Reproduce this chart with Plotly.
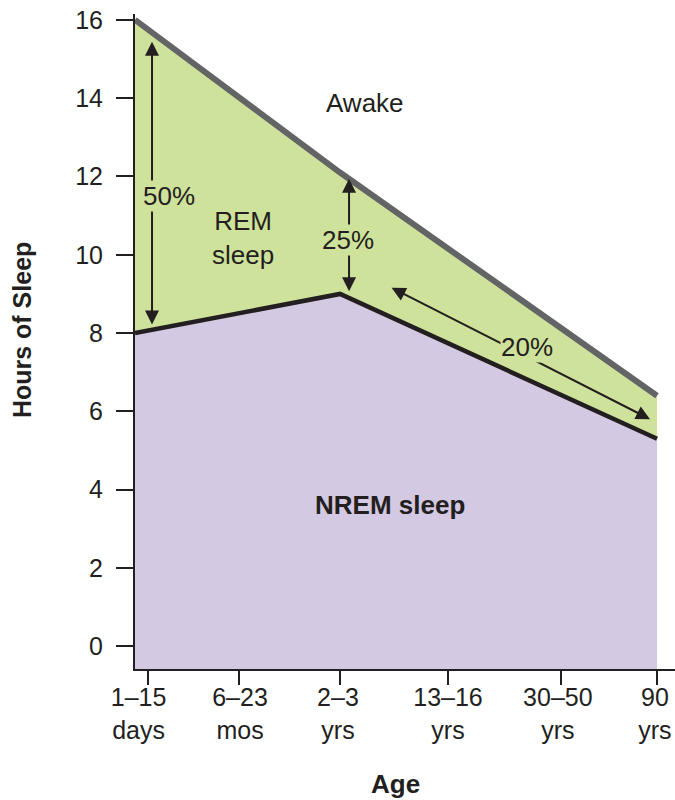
import numpy as np
import plotly.graph_objects as go

# ---- data ----
age_labels = ["1–15<br>days", "6–23<br>mos", "2–3<br>yrs", "13–16<br>yrs", "30–50<br>yrs", "90<br>yrs"]
age_label_pos = [0.034, 1.006, 1.944, 2.998, 4.05, 4.98]
age_tick_pos = [0.125, 0.996, 1.964, 2.998, 4.08, 5.0]

sample_x = [0.0, 1.964, 5.0]          # 1–15 days, 2–3 yrs, 90 yrs
total_sleep = [16.0, 12.1, 6.4]       # hours asleep (REM + NREM)
nrem_sleep = [8.0, 9.0, 5.3]          # hours of NREM sleep

y_ticks = [0, 2, 4, 6, 8, 10, 12, 14, 16]

# ---- style ----
FONT = "Liberation Sans, Arial, sans-serif"
INK = "#231f20"
GREEN = "#cfe29b"
PURPLE = "#d3c9e2"
GRAY = "#636466"
Y_MIN, Y_MAX = -0.58, 16.15
X_MIN, X_MAX = 0.0, 5.172

fig = go.Figure()
base = [Y_MIN] * len(sample_x)
fig.add_trace(go.Scatter(x=sample_x, y=base, mode="lines", line=dict(width=0),
                         hoverinfo="skip", showlegend=False))
fig.add_trace(go.Scatter(x=sample_x, y=nrem_sleep, mode="lines", line=dict(width=0),
                         fill="tonexty", fillcolor=PURPLE, showlegend=False))
fig.add_trace(go.Scatter(x=sample_x, y=total_sleep, mode="lines", line=dict(width=0),
                         fill="tonexty", fillcolor=GREEN, showlegend=False))
fig.add_trace(go.Scatter(x=sample_x, y=nrem_sleep, mode="lines",
                         line=dict(color=INK, width=4.5), showlegend=False))
fig.add_trace(go.Scatter(x=sample_x, y=total_sleep, mode="lines",
                         line=dict(color=GRAY, width=6), showlegend=False))

anns = []
def arrow(x0, y0, x1, y1):
    anns.append(dict(x=x1, y=y1, ax=x0, ay=y0, xref="x", yref="y", axref="x", ayref="y",
                     text="", showarrow=True, arrowhead=2, startarrowhead=2,
                     arrowside="end+start", arrowsize=1.4, startarrowsize=1.4,
                     arrowwidth=2, arrowcolor=INK, standoff=0, startstandoff=0))

arrow(0.163, 8.18, 0.163, 15.44)
arrow(2.05, 9.03, 2.05, 11.94)
arrow(2.443, 9.176, 4.933, 5.802)

def label(x, y, text, bg=None, bold=False):
    anns.append(dict(x=x, y=y, xref="x", yref="y", text=f"<b>{text}</b>" if bold else text,
                     showarrow=False, font=dict(family=FONT, size=26, color=INK),
                     bgcolor=bg if bg else "rgba(0,0,0,0)", borderpad=0))

label(2.203, 13.88, "Awake")
label(1.034, 10.43, "REM<br>sleep")
label(0.326, 11.5, "50%", bg=GREEN)
label(2.04, 10.38, "25%", bg=GREEN)
label(3.755, 7.64, "20%", bg=GREEN)
label(2.443, 3.60, "NREM sleep", bold=True)

anns.append(dict(x=-0.209, y=0.5176, xref="paper", yref="paper", text="<b>Hours of Sleep</b>",
                 textangle=-90, showarrow=False, xanchor="center", yanchor="middle",
                 font=dict(family=FONT, size=25, color=INK)))
anns.append(dict(x=0.483, y=-0.1756, xref="paper", yref="paper", text="<b>Age</b>",
                 showarrow=False, xanchor="center", yanchor="middle",
                 font=dict(family=FONT, size=26, color=INK)))

fig.update_layout(
    width=675, height=800,
    margin=dict(l=135, r=0, t=14, b=131),
    paper_bgcolor="white", plot_bgcolor="white",
    annotations=anns,
    xaxis=dict(range=[X_MIN, X_MAX], tickmode="array", tickvals=age_label_pos,
               ticktext=age_labels, ticks="", showgrid=False, zeroline=False,
               showline=True, linecolor=INK, linewidth=2,
               tickfont=dict(family=FONT, size=25, color=INK),
               ticklabelstandoff=5,
               minor=dict(tickmode="array", tickvals=age_tick_pos, ticks="outside",
                          ticklen=14, tickwidth=1.5, tickcolor=INK, showgrid=False)),
    yaxis=dict(range=[Y_MIN, Y_MAX], tickmode="array", tickvals=y_ticks,
               ticks="outside", ticklen=17, tickwidth=1.5, tickcolor=INK,
               showgrid=False, zeroline=False, showline=True, linecolor=INK, linewidth=2,
               tickfont=dict(family=FONT, size=25, color=INK), ticklabelstandoff=8),
)

fig.write_html("out.html", config={"displayModeBar": False},
               post_script="document.body.style.margin='0';")
